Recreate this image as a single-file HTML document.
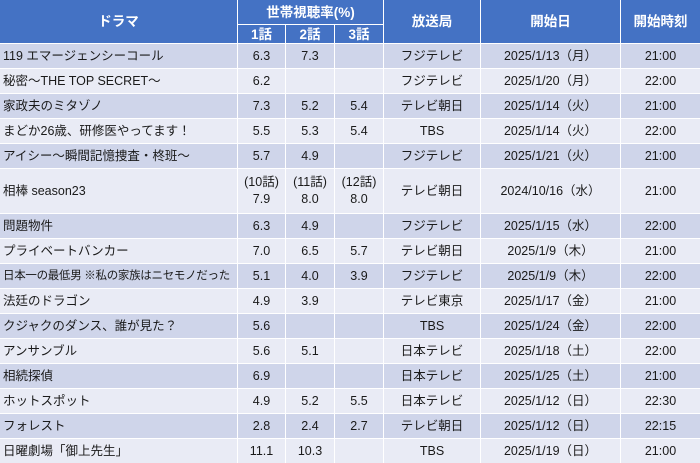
<!DOCTYPE html>
<html><head><meta charset="utf-8"><style>
body{margin:0;width:700px;height:463px;overflow:hidden;background:#fff;font-family:"Liberation Sans","Noto Sans CJK JP",sans-serif;position:relative;}
.c{position:absolute;display:flex;align-items:center;justify-content:center;text-align:center;font-size:12.5px;color:#1a1a1a;white-space:nowrap;overflow:hidden;line-height:17px;box-sizing:border-box;}
.h{background:#4472C4;color:#fff;font-weight:bold;font-size:13.5px;}
.l{justify-content:flex-start;padding-left:3px;text-align:left}
.s{font-size:11.5px;letter-spacing:-0.3px}
</style></head><body>
<script>
var X=[0,237,285,334,383,480,620,700];
function cell(x0,x1,y0,y1,txt,cls,bg){
  var d=document.createElement('div');d.className='c '+(cls||'');
  d.style.left=(X[x0]+(x0?1:0))+'px';d.style.width=(X[x1]-X[x0]-(x0?1:0))+'px';
  d.style.top=(y0+(y0?1:0))+'px';d.style.height=(y1-y0-(y0?1:0))+'px';
  if(bg)d.style.background=bg;d.innerHTML=txt;document.body.appendChild(d);
}
cell(0,1,0,43,'ドラマ','h');cell(1,4,0,24,'世帯視聴率(%)','h');
cell(1,2,24,43,'1話','h');cell(2,3,24,43,'2話','h');cell(3,4,24,43,'3話','h');
cell(4,5,0,43,'放送局','h');cell(5,6,0,43,'開始日','h');cell(6,7,0,43,'開始時刻','h');
var R=[
['119 エマージェンシーコール','6.3','7.3','','フジテレビ','2025/1/13（月）','21:00'],
['秘密～THE TOP SECRET～','6.2','','','フジテレビ','2025/1/20（月）','22:00'],
['家政夫のミタゾノ','7.3','5.2','5.4','テレビ朝日','2025/1/14（火）','21:00'],
['まどか26歳、研修医やってます！','5.5','5.3','5.4','TBS','2025/1/14（火）','22:00'],
['アイシー～瞬間記憶捜査・柊班～','5.7','4.9','','フジテレビ','2025/1/21（火）','21:00'],
['相棒 season23','(10話)<br>7.9','(11話)<br>8.0','(12話)<br>8.0','テレビ朝日','2024/10/16（水）','21:00'],
['問題物件','6.3','4.9','','フジテレビ','2025/1/15（水）','22:00'],
['プライベートバンカー','7.0','6.5','5.7','テレビ朝日','2025/1/9（木）','21:00'],
['日本一の最低男 ※私の家族はニセモノだった','5.1','4.0','3.9','フジテレビ','2025/1/9（木）','22:00'],
['法廷のドラゴン','4.9','3.9','','テレビ東京','2025/1/17（金）','21:00'],
['クジャクのダンス、誰が見た？','5.6','','','TBS','2025/1/24（金）','22:00'],
['アンサンブル','5.6','5.1','','日本テレビ','2025/1/18（土）','22:00'],
['相続探偵','6.9','','','日本テレビ','2025/1/25（土）','21:00'],
['ホットスポット','4.9','5.2','5.5','日本テレビ','2025/1/12（日）','22:30'],
['フォレスト','2.8','2.4','2.7','テレビ朝日','2025/1/12（日）','22:15'],
['日曜劇場「御上先生」','11.1','10.3','','TBS','2025/1/19（日）','21:00']];
var y=43;
for(var i=0;i<R.length;i++){
  var h=(i==5)?45:25;var bg=(i%2==0)?'#CFD5EA':'#E9EBF5';
  for(var j=0;j<7;j++){
    var cls=j==0?('l'+(i==8?' s':'')):'';
    cell(j,j+1,y,y+h,R[i][j],cls,bg);
  }
  y+=h;
}
</script>
</body></html>
